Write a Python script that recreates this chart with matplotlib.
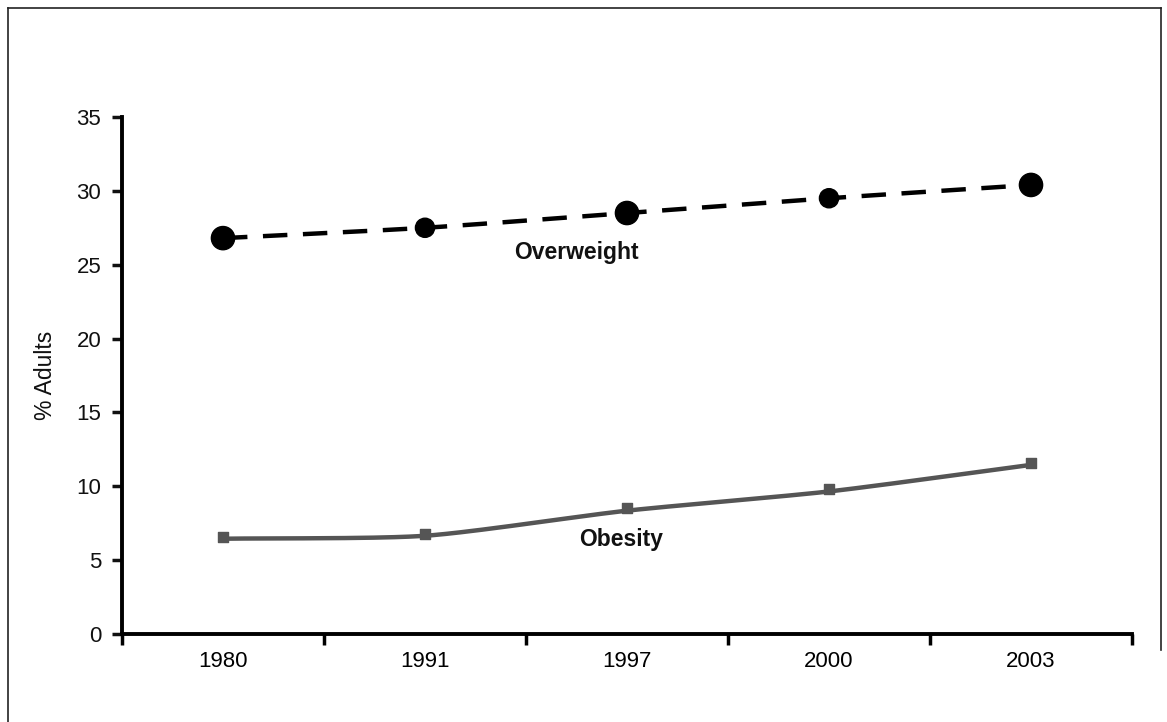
import numpy as np
import matplotlib
matplotlib.use("Agg")
import matplotlib.pyplot as plt
from matplotlib.lines import Line2D

years = ["1980", "1991", "1997", "2000", "2003"]
overweight = [26.8, 27.5, 28.5, 29.5, 30.4]
obesity = [6.6, 6.8, 8.5, 9.8, 11.6]
yticks = [0, 5, 10, 15, 20, 25, 30, 35]

plt.rcParams['font.family'] = ['Liberation Sans', 'DejaVu Sans']

W, H = 1167, 722
fig = plt.figure(figsize=(W / 100, H / 100), dpi=100)
# frame lines (left, top, right)
fx0, fx1, fy_top, fy_bot = 7.5 / W, 1160.5 / W, 1 - 7.5 / H, 0.0
for xs_, ys_ in [([fx0, fx0], [fy_bot, fy_top]),
                 ([fx0, fx1], [fy_top, fy_top]),
                 ([fx1, fx1], [fy_top, 1 - 650 / H])]:
    fig.lines.append(Line2D(xs_, ys_, transform=fig.transFigure,
                            color='#222222', linewidth=1.2))

ax = fig.add_axes([122 / W, 1 - 634 / H, (1132 - 122) / W, (634 - 117) / H])

x = np.arange(len(years))


def smooth(xv, yv, n=40, tension=0.35):
    """Cardinal-spline smoothing through the data points (Excel smoothed line)."""
    xv = np.asarray(xv, float)
    yv = np.asarray(yv, float)
    px = np.concatenate([[2 * xv[0] - xv[1]], xv, [2 * xv[-1] - xv[-2]]])
    py = np.concatenate([[2 * yv[0] - yv[1]], yv, [2 * yv[-1] - yv[-2]]])
    outx, outy = [], []
    t = np.linspace(0, 1, n)
    h00 = 2 * t ** 3 - 3 * t ** 2 + 1
    h10 = t ** 3 - 2 * t ** 2 + t
    h01 = -2 * t ** 3 + 3 * t ** 2
    h11 = t ** 3 - t ** 2
    for i in range(1, len(px) - 2):
        for arr, out in ((px, outx), (py, outy)):
            m1 = tension * (arr[i + 1] - arr[i - 1])
            m2 = tension * (arr[i + 2] - arr[i])
            out.append(h00 * arr[i] + h10 * m1 + h01 * arr[i + 1] + h11 * m2)
    return np.concatenate(outx), np.concatenate(outy)


owx, owy = smooth(x, overweight)
obx, oby = smooth(x, obesity)

ax.plot(owx, owy, color='black', linewidth=3.2, dashes=(5.5, 3.5), zorder=2)
sizes = [280, 190, 280, 190, 280]
ax.scatter(x, overweight, s=sizes, marker='o', color='black', zorder=3)

ax.plot(obx, oby - 0.15, color='#555555', linewidth=3.2, zorder=2)
ax.scatter(x, obesity, s=55, marker='s', color='#555555', zorder=3)

ax.text(1.75, 25.8, 'Overweight', fontsize=16.5, fontweight='bold',
        ha='center', va='center', color='#111111')
ax.text(1.97, 6.4, 'Obesity', fontsize=16.5, fontweight='bold',
        ha='center', va='center', color='#111111')

ax.set_xlim(-0.5, len(years) - 0.5)
ax.set_ylim(0, 35)
ax.set_yticks(yticks)
ax.set_yticklabels([str(v) for v in yticks], fontsize=16)
ax.set_xticks(np.arange(-0.5, len(years), 1.0))
ax.set_xticklabels([])
ax.set_xticks(x, minor=True)
ax.set_xticklabels(years, minor=True, fontsize=16)
ax.tick_params(axis='x', which='major', direction='out', length=8, width=2.5)
ax.tick_params(axis='x', which='minor', length=0, pad=12)
ax.tick_params(axis='y', direction='out', length=7, width=2.5, pad=8,
               colors='#111111')
for s in ['top', 'right']:
    ax.spines[s].set_visible(False)
for s in ['left', 'bottom']:
    ax.spines[s].set_linewidth(2.8)
ax.set_ylabel('% Adults', fontsize=16.5, labelpad=14, color='#111111')

fig.savefig('out.png', dpi=100)
